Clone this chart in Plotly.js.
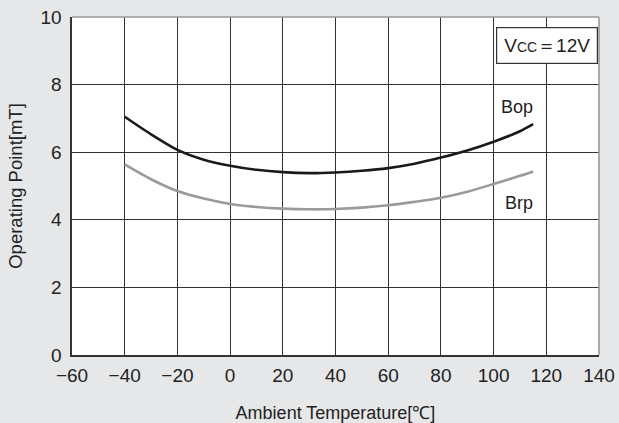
<!DOCTYPE html>
<html>
<head>
<meta charset="utf-8">
<script src="https://cdn.plot.ly/plotly-3.0.1.min.js"></script>
<style>html,body{margin:0;padding:0;background:#e6e7e8;}</style>
</head>
<body>
<div id="chart" style="width:619px;height:423px;"></div>
<script>
var temps = [-40, -30, -20, -10, 0, 10, 20, 30, 40, 50, 60, 70, 80, 90, 100, 110, 115];
var bop = [7.05, 6.53, 6.07, 5.78, 5.60, 5.48, 5.41, 5.38, 5.40, 5.45, 5.53, 5.66, 5.84, 6.05, 6.31, 6.62, 6.83];
var brp = [5.64, 5.20, 4.85, 4.63, 4.47, 4.38, 4.33, 4.31, 4.32, 4.36, 4.43, 4.53, 4.65, 4.83, 5.06, 5.30, 5.43];
var xTicks = [-60, -40, -20, 0, 20, 40, 60, 80, 100, 120, 140];
var xTickText = ['\u221260', '\u221240', '\u221220', '0', '20', '40', '60', '80', '100', '120', '140'];
var yTicks = [0, 2, 4, 6, 8, 10];

var fontFam = 'Liberation Sans, Arial, sans-serif';
var traces = [
  {x: temps, y: bop, mode: 'lines', line: {color: '#1a1a1a', width: 2.6, shape: 'spline', smoothing: 0.8}, name: 'Bop', showlegend: false},
  {x: temps, y: brp, mode: 'lines', line: {color: '#9a9a9a', width: 2.6, shape: 'spline', smoothing: 0.8}, name: 'Brp', showlegend: false}
];
var layout = {
  width: 619, height: 423,
  margin: {l: 72, r: 20, t: 17, b: 68},
  paper_bgcolor: '#e6e7e8',
  plot_bgcolor: '#ffffff',
  font: {family: fontFam, color: '#222222'},
  xaxis: {
    range: [-60, 140], tickvals: xTicks, ticktext: xTickText,
    showgrid: true, gridcolor: '#333333', gridwidth: 1,
    showline: true, linecolor: '#333333', linewidth: 1.6,
    zeroline: false, ticks: '', tickfont: {size: 19, color: '#222'},
    ticklabelstandoff: 3,
    title: {text: 'Ambient Temperature[\u2103]', font: {size: 18, color: '#222'}, standoff: 22}
  },
  yaxis: {
    range: [0, 10], tickvals: yTicks,
    showgrid: true, gridcolor: '#333333', gridwidth: 1,
    showline: true, linecolor: '#333333', linewidth: 1.6,
    zeroline: false, ticks: '', tickfont: {size: 19, color: '#222'},
    ticklabelstandoff: 5,
    title: {text: 'Operating Point[mT]', font: {size: 18.5, color: '#222'}, standoff: 13}
  },
  shapes: [
    {type: 'line', xref: 'paper', yref: 'paper', x0: 0, x1: 1, y0: 1, y1: 1, line: {color: '#999999', width: 1.6}},
    {type: 'line', xref: 'paper', yref: 'paper', x0: 1, x1: 1, y0: 0, y1: 1, line: {color: '#999999', width: 1.6}}
  ],
  annotations: [
    {x: 120.1, y: 9.17, xref: 'x', yref: 'y', text: 'V<span style="font-size:14px">CC</span>\uff1d12V', showarrow: false,
     font: {size: 19, color: '#222'}, bgcolor: '#ffffff', bordercolor: '#333333', borderwidth: 1.2, borderpad: 7},
    {x: 109, y: 7.35, xref: 'x', yref: 'y', text: 'Bop', showarrow: false, font: {size: 18, color: '#222'}},
    {x: 109.5, y: 4.5, xref: 'x', yref: 'y', text: 'Brp', showarrow: false, font: {size: 18, color: '#222'}}
  ]
};
Plotly.newPlot('chart', traces, layout, {displayModeBar: false, staticPlot: true});
</script>
</body>
</html>
